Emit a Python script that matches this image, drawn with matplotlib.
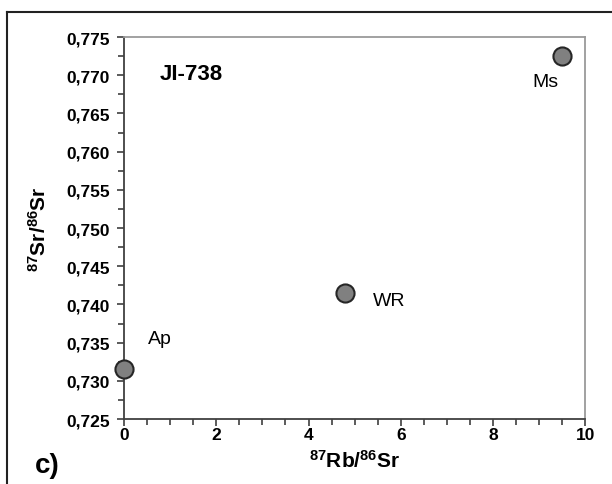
import matplotlib
matplotlib.use('Agg')
import matplotlib.pyplot as plt
from matplotlib.ticker import MultipleLocator, FuncFormatter
from matplotlib.lines import Line2D

plt.rcParams['font.family'] = 'Liberation Sans'

# data
samples = ['Ap', 'WR', 'Ms']
rb_sr = [0.0, 4.8, 9.5]
sr_sr = [0.7315, 0.7415, 0.7725]
label_x = [0.52, 5.4, 8.85]
label_y = [0.7355, 0.7405, 0.7692]

fig = plt.figure(figsize=(6.12, 4.85), dpi=100)
ax = fig.add_axes([0.2026, 0.134, 0.7539, 0.7876])

ax.scatter(rb_sr, sr_sr, s=170, color='#808080', edgecolors='#262626',
           linewidths=1.5, zorder=5, clip_on=False)
for name, lx, ly in zip(samples, label_x, label_y):
    ax.text(lx, ly, name, fontsize=14, va='center', ha='left')

ax.text(0.78, 0.7702, 'JI-738', fontsize=16, fontweight='bold', va='center')

ax.set_xlim(0, 10)
ax.set_ylim(0.725, 0.775)
ax.xaxis.set_major_locator(MultipleLocator(2))
ax.xaxis.set_minor_locator(MultipleLocator(0.5))
ax.yaxis.set_major_locator(MultipleLocator(0.005))
ax.yaxis.set_minor_locator(MultipleLocator(0.0025))
ax.yaxis.set_major_formatter(FuncFormatter(lambda v, p: f'{v:.3f}'.replace('.', ',')))
ax.xaxis.set_major_formatter(FuncFormatter(lambda v, p: f'{v:.0f}'))

for lab in ax.get_xticklabels() + ax.get_yticklabels():
    lab.set_fontweight('bold')
    lab.set_fontsize(12.5)

ax.tick_params(which='both', direction='out', color='#404040', width=1.2)
ax.tick_params(which='major', length=5)
ax.tick_params(which='minor', length=4)
ax.tick_params(axis='x', pad=1)
ax.tick_params(axis='y', pad=5)
ax.tick_params(top=False, right=False)

for side in ['left', 'bottom']:
    ax.spines[side].set_color('#404040')
    ax.spines[side].set_linewidth(1.3)
for side in ['top', 'right']:
    ax.spines[side].set_color('#9a9a9a')
    ax.spines[side].set_linewidth(1.3)

ax.set_xlabel(r'$\mathregular{^{87}}$Rb/$\mathregular{^{86}}$Sr', fontsize=15, fontweight='bold', labelpad=5)
ax.set_ylabel(r'$\mathregular{^{87}}$Sr/$\mathregular{^{86}}$Sr', fontsize=15, fontweight='bold', labelpad=12)

fig.text(0.057, 0.04, 'c)', fontsize=20, fontweight='bold', va='center')

# outer frame (left and top edges visible)
fig.add_artist(Line2D([0.012, 0.012], [0.0, 0.973], transform=fig.transFigure, color='#222222', lw=1.5))
fig.add_artist(Line2D([0.012, 1.0], [0.973, 0.973], transform=fig.transFigure, color='#222222', lw=1.5))

fig.savefig('out.png', dpi=100)
